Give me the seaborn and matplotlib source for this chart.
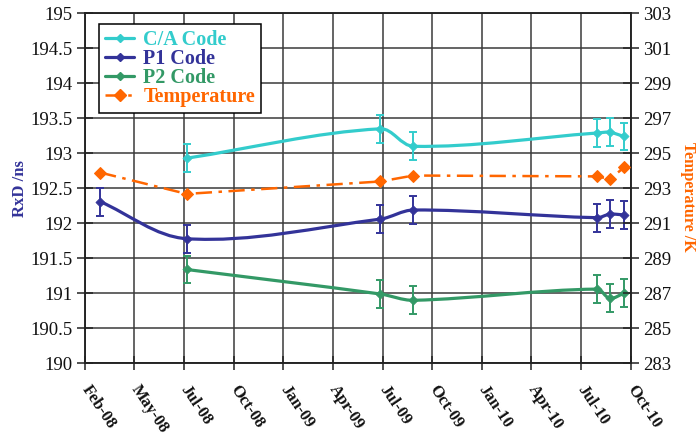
import numpy as np
import pandas as pd
import matplotlib
matplotlib.use("Agg")
import matplotlib.pyplot as plt
import matplotlib.dates as mdates
from matplotlib.path import Path
from matplotlib.patches import PathPatch
from matplotlib.lines import Line2D
import seaborn as sns

# Measurement dates and values
dates = ["2008-02-29", "2008-08-04", "2009-07-21", "2009-09-19",
         "2010-08-18", "2010-09-10", "2010-10-06"]
ca_code = [np.nan, 192.93, 193.35, 193.10, 193.29, 193.30, 193.24]
p1_code = [192.31, 191.78, 192.06, 192.19, 192.08, 192.13, 192.12]
p2_code = [np.nan, 191.34, 190.99, 190.90, 191.06, 190.93, 191.00]
temperature = [293.9, 292.68, 293.39, 293.73, 293.68, 293.53, 294.19]
rxd_error = 0.2

# Date axis: 12 ticks, 90 days apart
tick_start = "2008-02-01"
tick_step = "90D"
n_ticks = 12

series_names = ["C/A Code", "P1 Code", "P2 Code"]
temp_name = "Temperature"
colors = {"C/A Code": "#33CCCC", "P1 Code": "#333399",
          "P2 Code": "#339966", "Temperature": "#FF6600"}

sns.set_theme(style="white")
plt.rcParams["font.family"] = ["Liberation Serif", "DejaVu Serif"]

df = pd.DataFrame({"date": pd.to_datetime(dates), "C/A Code": ca_code,
                   "P1 Code": p1_code, "P2 Code": p2_code,
                   "Temperature": temperature})

W, H = 697, 437
left, right, top, bottom = 84.7, 630.7, 13.3, 363.3
fig = plt.figure(figsize=(W / 100, H / 100), dpi=100)
ax = fig.add_axes([left / W, 1 - bottom / H, (right - left) / W, (bottom - top) / H])
ax2 = ax.twinx()

tick_dates = pd.date_range(tick_start, periods=n_ticks, freq=tick_step)
tick_labels = [d.strftime("%b-%y") for d in tick_dates]
ax.set_xlim(tick_dates[0], tick_dates[-1])
ax.set_ylim(190, 195)
ax2.set_ylim(283, 303)

# scale factors so the smoothing is computed in an isotropic (screen-like) space
x0, x1 = mdates.date2num(tick_dates[0]), mdates.date2num(tick_dates[-1])
sx = (right - left) / (x1 - x0)
sy = (bottom - top) / (195 - 190)


def smooth_path(xs, ys):
    """Smoothed line through the points: cubic Bezier segments whose
    tangents follow the neighbouring points, scaled by segment length."""
    pts = np.column_stack([np.asarray(xs) * sx, np.asarray(ys) * sy])
    n = len(pts)
    tang = []
    for i in range(n):
        a = pts[max(i - 1, 0)]
        b = pts[min(i + 1, n - 1)]
        d = b - a
        tang.append(d / np.hypot(*d))
    verts = [pts[0]]
    codes = [Path.MOVETO]
    for i in range(n - 1):
        seg = np.hypot(*(pts[i + 1] - pts[i])) / 3.0
        verts += [pts[i] + tang[i] * seg, pts[i + 1] - tang[i + 1] * seg, pts[i + 1]]
        codes += [Path.CURVE4] * 3
    verts = np.array(verts) / np.array([sx, sy])
    return Path(verts, codes)


grid_color = "#3a3a3a"

for name in series_names:
    sub = df[["date", name]].dropna()
    c = colors[name]
    xnum = mdates.date2num(sub["date"])
    ax.errorbar(sub["date"], sub[name], yerr=rxd_error, fmt="none",
                ecolor=c, elinewidth=1.4, capsize=2.6, capthick=1.4, zorder=4)
    patch = PathPatch(smooth_path(xnum, sub[name].to_numpy()), fill=False,
                      edgecolor=c, lw=2.3, capstyle="round", joinstyle="round",
                      zorder=5)
    ax.add_patch(patch)
    sns.scatterplot(data=sub, x="date", y=name, marker="D", s=22, color=c,
                    edgecolor=c, linewidth=0.5, ax=ax, zorder=6, legend=False)

temp_dash = (0, (6.5, 2.6, 1.4, 2.6))
sns.lineplot(data=df, x="date", y=temp_name, ax=ax2, color=colors[temp_name],
             lw=1.8, linestyle=temp_dash, marker="D", markersize=6,
             markeredgecolor=colors[temp_name], legend=False, zorder=5)

ax.set_xlim(tick_dates[0], tick_dates[-1])
ax.set_xticks(tick_dates)
ax.set_xticklabels(tick_labels, rotation=-56, ha="left", va="center",
                   rotation_mode="anchor", fontsize=12, fontweight="bold")

ax.set_ylim(190, 195)
ax.set_yticks(np.arange(190, 195.01, 0.5))
ax.set_yticklabels([f"{v:g}" for v in np.arange(190, 195.01, 0.5)])
ax2.set_ylim(283, 303)
ax2.set_yticks(np.arange(283, 303.1, 2))

ax.grid(True, color=grid_color, lw=1.1)
ax2.grid(False)
for a in (ax, ax2):
    for s in a.spines.values():
        s.set_color("#222222")
        s.set_linewidth(1.1)

ax.tick_params(axis="y", direction="inout", length=12, width=1.1,
               color="#222222", labelsize=13.5, pad=3, left=True,
               labelcolor="#111111")
ax.tick_params(axis="x", direction="inout", length=10, width=1.1,
               color="#222222", pad=12, bottom=True, labelcolor="#111111")
ax2.tick_params(axis="y", direction="inout", length=12, width=1.1,
                color="#222222", labelsize=13.5, pad=3, right=True,
                labelcolor="#111111")

ax.set_xlabel("")
ax.set_ylabel("RxD /ns", color=colors["P1 Code"], fontsize=12,
              fontweight="bold", rotation=90, ha="center", va="center")
ax.yaxis.set_label_coords((20 - left) / (right - left), 0.5)
ax2.set_ylabel("Temperature /K", color=colors[temp_name], fontsize=11.5,
               fontweight="bold", rotation=-90, ha="center", va="center")
ax2.yaxis.set_label_coords((688.5 - left) / (right - left), (bottom - 197) / (bottom - top))

handles = [Line2D([], [], color=colors[n], lw=2.3, marker="D", markersize=4.5)
           for n in series_names]
handles.append(Line2D([], [], color=colors[temp_name], lw=1.8,
                      linestyle=temp_dash, marker="D", markersize=6))
leg = ax.legend(handles, series_names + [temp_name], loc="upper left",
                bbox_to_anchor=((99 - left) / (right - left), (bottom - 24) / (bottom - top)),
                borderaxespad=0, frameon=True, fancybox=False, framealpha=1,
                edgecolor="black", labelcolor="linecolor", handlelength=1.45,
                handletextpad=0.45, labelspacing=-0.05, borderpad=0.3,
                prop={"weight": "bold", "size": 14.5})
leg.get_frame().set_linewidth(1.1)
leg.set_zorder(10)

fig.savefig("out.png", dpi=100)
